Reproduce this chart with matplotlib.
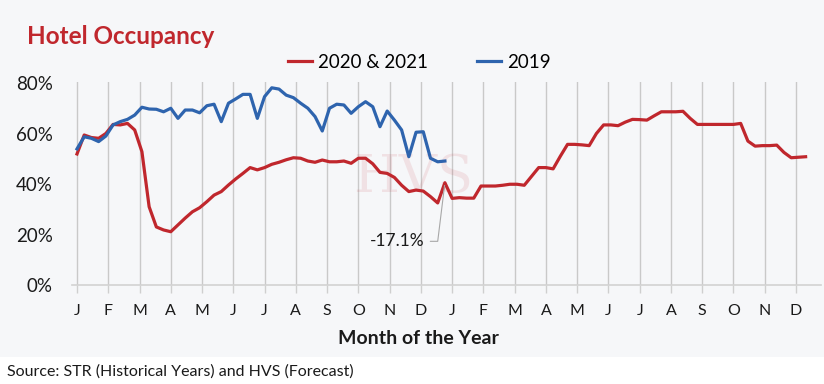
# Hotel occupancy chart, 2019 vs 2020 & 2021
import numpy as np
import matplotlib
matplotlib.use('Agg')
import matplotlib.pyplot as plt
from matplotlib.patches import Rectangle

plt.rcParams['font.family'] = ['Lato', 'DejaVu Sans']

month_labels = ['J', 'F', 'M', 'A', 'M', 'J', 'J', 'A', 'S', 'O', 'N', 'D',
                'J', 'F', 'M', 'A', 'M', 'J', 'J', 'A', 'S', 'O', 'N', 'D']
y_ticks = [0, 20, 40, 60, 80]
y_labels = ['0%', '20%', '40%', '60%', '80%']

# weekly occupancy (%), 2020 then 2021 forecast
occ_2020_2021 = [51.9, 59.4, 58.4, 58.1, 60.0, 63.6, 63.4, 64.0, 61.4, 52.8,
                 31.0, 23.0, 21.8, 21.1, 23.8, 26.5, 29.0, 30.6, 33.0, 35.6,
                 37.0, 39.6, 42.0, 44.2, 46.5, 45.6, 46.5, 47.8, 48.6, 49.6,
                 50.4, 50.2, 49.1, 48.6, 49.5, 48.8, 48.8, 49.1, 48.2, 50.2,
                 50.2, 48.0, 44.6, 44.2, 42.6, 39.5, 37.0, 37.6, 37.2, 35.0,
                 32.5, 40.5,
                 34.3, 34.6, 34.4, 34.4, 39.2, 39.2, 39.2, 39.5, 39.9, 39.9,
                 39.5, 43.0, 46.5, 46.5, 46.0, 51.0, 55.7, 55.7, 55.5, 55.2,
                 60.0, 63.4, 63.4, 63.1, 64.5, 65.6, 65.5, 65.3, 67.0, 68.6,
                 68.6, 68.6, 68.8, 66.0, 63.6, 63.6, 63.6, 63.6, 63.6, 63.6,
                 64.0, 57.0, 55.0, 55.2, 55.2, 55.4, 52.5, 50.4, 50.6, 50.8]

# weekly occupancy (%), 2019
occ_2019 = [53.9, 58.7, 58.1, 56.8, 59.0, 63.4, 64.7, 65.6, 67.3, 70.4,
            69.7, 69.6, 68.6, 70.0, 66.0, 69.3, 69.3, 68.2, 71.0, 71.6,
            64.7, 72.0, 73.7, 75.5, 75.5, 66.0, 74.6, 78.1, 77.6, 75.2,
            74.2, 72.0, 70.0, 66.7, 61.0, 70.0, 71.6, 71.3, 68.0, 70.6,
            72.6, 70.6, 62.7, 68.9, 65.3, 61.4, 50.8, 60.5, 60.7, 50.2,
            48.8, 49.1]

red = '#c0272d'
blue = '#2e64ae'

# weeks -> months on the x axis
x_red = np.arange(len(occ_2020_2021)) * 12 / 52
x_blue = np.arange(len(occ_2019)) * 12 / 52

fig = plt.figure(figsize=(8.24, 3.84), dpi=100)
fig.patch.set_facecolor('white')
# light panel behind the chart
fig.patches.append(Rectangle((0, 1 - 357 / 384), 1, 357 / 384, transform=fig.transFigure,
                             facecolor='#f6f7f9', edgecolor='none', zorder=-10))

ax = fig.add_axes([72.3 / 824, 1 - 285 / 384, (821 - 72.3) / 824, (285 - 82) / 384])
ax.set_facecolor('none')

ax.plot(x_red, occ_2020_2021, color=red, lw=2.3, label='2020 & 2021', zorder=3,
        solid_joinstyle='round')
ax.plot(x_blue, occ_2019, color=blue, lw=2.3, label='2019', zorder=3,
        solid_joinstyle='round')

ax.set_xlim(-0.15, 23.8)
ax.set_ylim(0, 80.4)
ax.set_xticks(range(24))
ax.set_xticklabels(month_labels, fontsize=11.5, color='#1a1a1a')
ax.set_yticks(y_ticks)
ax.set_yticklabels(y_labels, fontsize=13.5, color='#1a1a1a')
ax.tick_params(axis='x', length=6, width=1, color='#cfcfcf', pad=8)
ax.tick_params(axis='y', length=0, pad=14)
ax.grid(axis='x', color='#c9c9c9', lw=1)
ax.set_axisbelow(True)
for s in ['top', 'right', 'left']:
    ax.spines[s].set_visible(False)
ax.spines['bottom'].set_color('#d2d2d2')
ax.spines['bottom'].set_linewidth(1.2)

# faint HVS watermark
ax.text(10.75, 42.5, 'HVS', fontsize=38, family='DejaVu Serif',
        color=red, alpha=0.1, ha='center', va='center', zorder=1)

# annotation on the week 51 spike
ax.annotate('-17.1%', xy=(x_red[51], occ_2020_2021[51]), xytext=(10.25, 17.3),
            fontsize=12.5, color='#1a1a1a', ha='center', va='center',
            arrowprops=dict(arrowstyle='-', color='#a8a8a8', lw=0.8, shrinkA=2, shrinkB=2,
                            connectionstyle='angle,angleA=0,angleB=83,rad=0',
                            relpos=(1, 0.5)))

fig.text(418 / 824, 1 - 339 / 384, 'Month of the Year', fontsize=14, fontweight='bold',
         color='#1a1a1a', ha='center', va='center')

fig.text(27 / 824, 1 - 37 / 384, 'Hotel Occupancy', fontsize=17.5, fontweight='bold',
         color=red, ha='left', va='center')

ax.legend(loc='center left', bbox_to_anchor=(288 / 824, 1 - 62 / 384),
          bbox_transform=fig.transFigure, ncol=2, frameon=False, fontsize=13.5,
          handlelength=1.3, handletextpad=0.3, columnspacing=2.6,
          borderpad=0, borderaxespad=0)

fig.text(7 / 824, 1 - 372 / 384, 'Source: STR (Historical Years) and HVS (Forecast)',
         fontsize=11.5, color='#1a1a1a', ha='left', va='center')

fig.savefig('out.png', dpi=100)
